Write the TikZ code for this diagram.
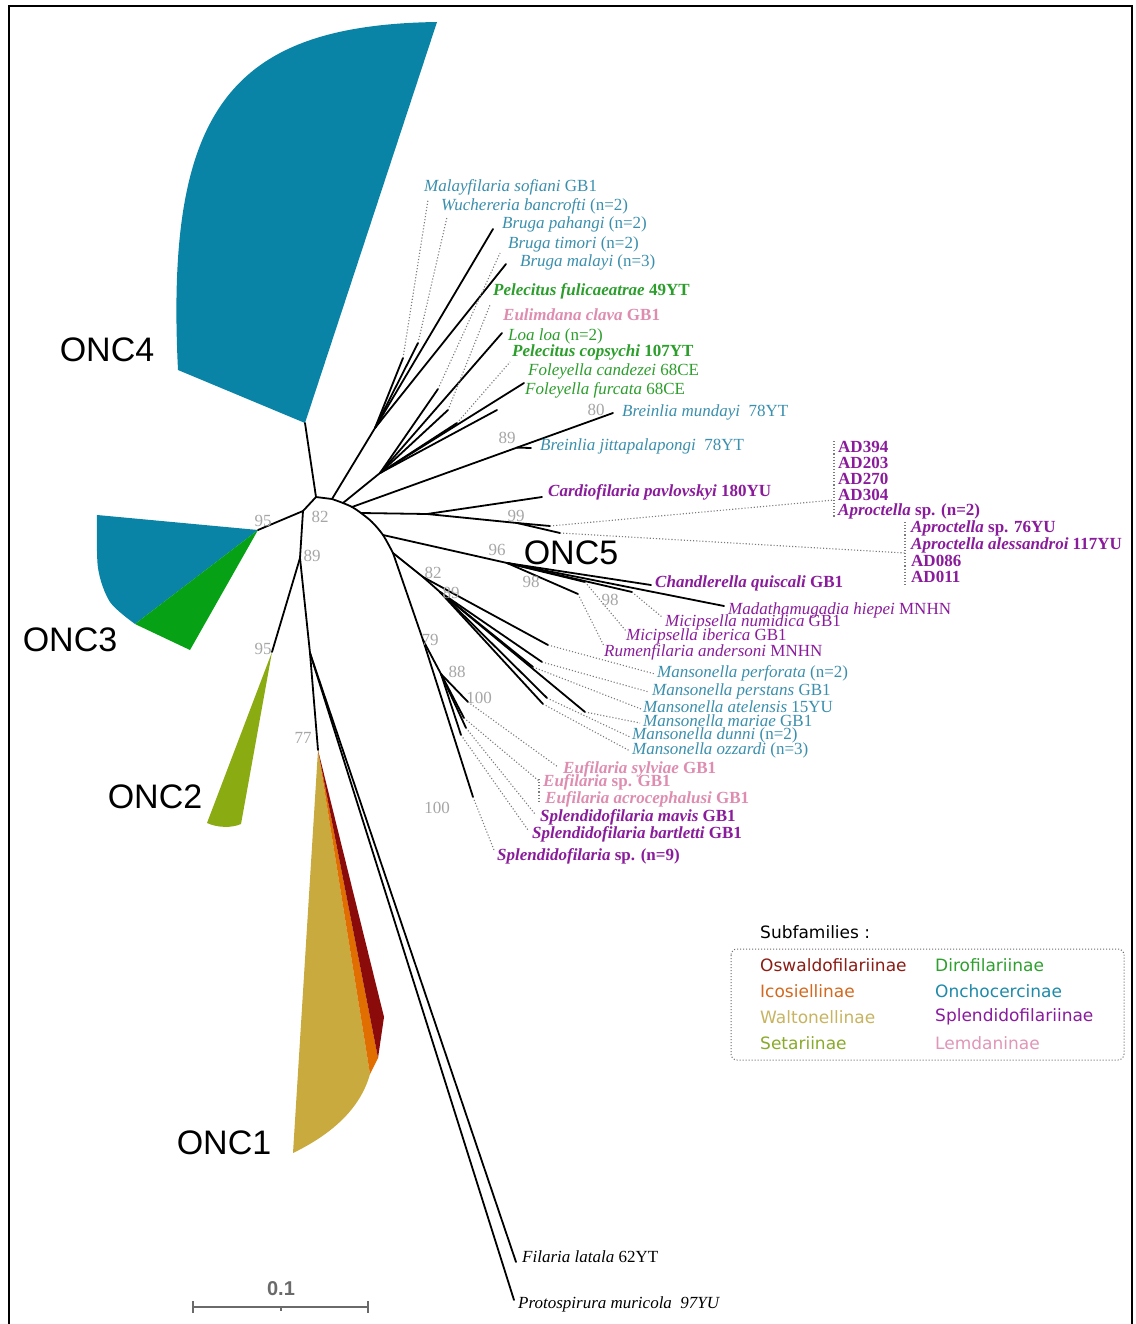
\documentclass[tikz,border=0pt]{standalone}
\usepackage{fontspec}
\setmainfont{Liberation Serif}
\newfontfamily\arialf{Liberation Sans}
\newfontfamily\dejavuf{DejaVu Sans}
\usetikzlibrary{calc}
\definecolor{tealfill}{HTML}{0A84A6}
\definecolor{greenfill}{HTML}{06A114}
\definecolor{olivefill}{HTML}{8AAB12}
\definecolor{tanfill}{HTML}{C9AA3E}
\definecolor{orangefill}{HTML}{E06E00}
\definecolor{redfill}{HTML}{8B0A0A}
\definecolor{tealtxt}{HTML}{3A8FAD}
\definecolor{greentxt}{HTML}{2C9E2C}
\definecolor{pinktxt}{HTML}{DE8DB0}
\definecolor{purptxt}{HTML}{8A1C9C}
\definecolor{bsgray}{HTML}{A6A6A6}
\definecolor{dotgray}{HTML}{7A7A7A}
\definecolor{sbgray}{HTML}{6A6A6A}
\definecolor{oswal}{HTML}{8C1C14}
\definecolor{icos}{HTML}{D2691E}
\definecolor{walt}{HTML}{C8B460}
\definecolor{setar}{HTML}{8AAA2A}
\definecolor{dirof}{HTML}{2EA02E}
\definecolor{oncho}{HTML}{1E8AAA}
\definecolor{splen}{HTML}{8A1A9E}
\definecolor{lemda}{HTML}{E096B8}
\tikzset{
  br/.style={line width=1.8pt, line cap=round, line join=round},
  dl/.style={draw=dotgray, dotted, line width=1.1pt},
  sp/.style={anchor=west, inner sep=0pt, font=\fontsize{17}{19}\selectfont, text height=12pt, text depth=4pt},
  bsl/.style={inner sep=0pt, font=\fontsize{17}{19}\selectfont, text=bsgray},
  oncl/.style={inner sep=0pt, font=\arialf\fontsize{34}{36}\selectfont},
  legl/.style={anchor=west, inner sep=0pt, font=\dejavuf\fontsize{17}{19}\selectfont},
  tl/.style={sp, text=tealtxt},
  gl/.style={sp, text=greentxt},
  pl/.style={sp, text=pinktxt},
  ul/.style={sp, text=purptxt},
  kl/.style={sp, text=black}
}
\begin{document}
\begin{tikzpicture}[x=1pt,y=-1pt]
\useasboundingbox (0,0) rectangle (1135,1324);
\fill[white] (0,0) rectangle (1135,1324);
% frame
\draw[line width=2.5pt] (9,1324) -- (9,6) -- (1132,6) -- (1132,1324);

% ---------- collapsed clades ----------
\fill[tealfill] (305,423) -- (178,370) .. controls (165,110) and (230,25) .. (437,22) -- cycle;
\fill[tealfill] (258,530) -- plot[smooth] coordinates {(97,515) (98,568) (110,602) (135,624)} -- cycle;
\fill[greenfill] (258,530) -- (135,624) -- (190,650) -- cycle;
\fill[olivefill] (272,652) -- (207,823) .. controls (218,828) and (232,828) .. (241,824) -- cycle;
\fill[tanfill] (318,750) -- (370,1074) .. controls (360,1110) and (330,1135) .. (293,1153) -- cycle;
\fill[orangefill] (318,750) -- (378,1058) -- (370,1074) -- cycle;
\fill[redfill] (318,750) -- (384,1017) -- (378,1058) -- cycle;

% ---------- coordinates ----------
\coordinate (A) at (316,497);
\coordinate (O4) at (305,423);
\coordinate (B) at (303,511);
\coordinate (O3) at (258,530);
\coordinate (N89) at (300,558);
\coordinate (O2) at (272,652);
\coordinate (P) at (310,653);
\coordinate (O1) at (318,750);
\coordinate (FL) at (516,1262);
\coordinate (PM) at (514,1300);
\coordinate (C0) at (332,499);
\coordinate (C1) at (343,503);
\coordinate (C2) at (352,507);
\coordinate (C3) at (361,513);
\coordinate (Cm) at (372,522);
\coordinate (D) at (383,535);
\coordinate (E) at (393,553);
\coordinate (N79) at (423,640);
% top fan
\coordinate (F1) at (375,428);
\coordinate (T1s) at (403,358);
\coordinate (T1d) at (428,200);
\coordinate (T2s) at (418,343);
\coordinate (T2d) at (447,217);
\coordinate (T3) at (493,229);
\coordinate (T5) at (506,264);
\coordinate (F2) at (380,473);
\coordinate (T4s) at (438,389);
\coordinate (T4d) at (500,253);
\coordinate (T6s) at (448,410);
\coordinate (T6d) at (490,305);
\coordinate (T7) at (502,333);
\coordinate (T8s) at (457,423);
\coordinate (T8d) at (510,362);
\coordinate (T9) at (524,383);
\coordinate (T10) at (497,410);
% Breinlia
\coordinate (BR1) at (613,413);
\coordinate (BRn) at (517,447.6);
\coordinate (BRj) at (531,448);
% Cardiofilaria / Aproctella
\coordinate (K) at (427,514);
\coordinate (CA) at (542,497);
\coordinate (L) at (517,523);
\coordinate (AP1) at (550,526);
\coordinate (AP2) at (560,533);
\coordinate (AQ1) at (834,500);
\coordinate (AQ2) at (905,553);
\coordinate (BK1a) at (834,441);
\coordinate (BK1b) at (834,517);
\coordinate (BK2a) at (905,522);
\coordinate (BK2b) at (905,586);
% ONC5 group
\coordinate (N96) at (507,563);
\coordinate (CH) at (651,585);
\coordinate (MH) at (724,606);
\coordinate (M1) at (632,592);
\coordinate (M2) at (585,582);
\coordinate (M3) at (578,594);
\coordinate (M1d) at (662,617);
\coordinate (M2d) at (626,631);
\coordinate (M3d) at (604,646);
% 82 group
\coordinate (G) at (423,577);
\coordinate (H) at (440,592);
\coordinate (Q1) at (548,645);
\coordinate (Q2) at (542,662);
\coordinate (Q3) at (533,667);
\coordinate (Q4) at (585,712);
\coordinate (Q5) at (547,698);
\coordinate (Q6) at (543,704);
\coordinate (Q1d) at (655,674);
\coordinate (Q2d) at (649,692);
\coordinate (Q3d) at (641,709);
\coordinate (Q4d) at (640,723);
\coordinate (Q5d) at (630,737);
\coordinate (Q6d) at (630,751);
% 79 group
\coordinate (N88) at (441,674);
\coordinate (X1) at (468,702);
\coordinate (X2) at (464,718);
\coordinate (X3) at (466,728);
\coordinate (X4) at (461,735);
\coordinate (X5) at (473,797);
\coordinate (X1d) at (558,767);
\coordinate (X2d) at (539,781);
\coordinate (X3d) at (535,814);
\coordinate (X4d) at (528,830);
\coordinate (X5d) at (494,850);
\coordinate (BK3a) at (539,779);
\coordinate (BK3b) at (539,803);

% ---------- branches ----------
\draw[br] (O4) -- (A) -- (B) -- (O3);
\draw[br] (B) -- (N89) -- (O2);
\draw[br] (N89) -- (P) -- (O1);
\draw[br] (P) -- (FL);
\draw[br] (P) -- (PM);
\draw[br] (A) -- (C0);
\draw[br] plot[smooth] coordinates {(C0) (C1) (C2) (C3) (Cm) (D) (E)};
\draw[br] (E) -- (N79);
% top fan
\draw[br] (C0) -- (F1);
\draw[br] (F1) -- (T1s);
\draw[br] (F1) -- (T2s);
\draw[br] (F1) -- (T3);
\draw[br] (F1) -- (T5);
\draw[dl] (T1s) -- (T1d);
\draw[dl] (T2s) -- (T2d);
\draw[br] (C1) -- (F2);
\draw[br] (F2) -- (T4s);
\draw[br] (F2) -- (T6s);
\draw[br] (F2) -- (T7);
\draw[br] (F2) -- (T8s);
\draw[br] (F2) -- (T9);
\draw[br] (F2) -- (T10);
\draw[dl] (T4s) -- (T4d);
\draw[dl] (T6s) -- (T6d);
\draw[dl] (T8s) -- (T8d);
% Breinlia
\draw[br] (C2) -- (BR1);
\draw[br] (BRn) -- (BRj);
% Cardiofilaria / Aproctella
\draw[br] (C3) -- (K) -- (CA);
\draw[br] (K) -- (L) -- (AP1);
\draw[br] (L) -- (AP2);
\draw[dl] (AP1) -- (AQ1);
\draw[dl] (AP2) -- (AQ2);
\draw[dl] (BK1a) -- (BK1b);
\draw[dl] (BK2a) -- (BK2b);
% ONC5
\draw[br] (D) -- (N96);
\draw[br] (N96) -- (CH);
\draw[br] (N96) -- (MH);
\draw[br] (N96) -- (M1);
\draw[br] (N96) -- (M2);
\draw[br] (N96) -- (M3);
\draw[dl] (M1) -- (M1d);
\draw[dl] (M2) -- (M2d);
\draw[dl] (M3) -- (M3d);
% 82 group
\draw[br] (E) -- (G) -- (Q1);
\draw[br] (G) -- (H);
\draw[br] (H) -- (Q2);
\draw[br] (H) -- (Q3);
\draw[br] (H) -- (Q4);
\draw[br] (H) -- (Q5);
\draw[br] (H) -- (Q6);
\draw[dl] (Q1) -- (Q1d);
\draw[dl] (Q2) -- (Q2d);
\draw[dl] (Q3) -- (Q3d);
\draw[dl] (Q4) -- (Q4d);
\draw[dl] (Q5) -- (Q5d);
\draw[dl] (Q6) -- (Q6d);
% 79 group
\draw[br] (N79) -- (X5);
\draw[br] (N79) -- (N88);
\draw[br] (N88) -- (X1);
\draw[br] (N88) -- (X2);
\draw[br] (N88) -- (X3);
\draw[br] (N88) -- (X4);
\draw[dl] (X1) -- (X1d);
\draw[dl] (X2) -- (X2d);
\draw[dl] (X3) -- (X3d);
\draw[dl] (X4) -- (X4d);
\draw[dl] (X5) -- (X5d);
\draw[dl] (BK3a) -- (BK3b);

% ---------- clade names ----------
\node[oncl] (onc4) at (107,350) {ONC4};
\node[oncl] (onc3) at (70,640) {ONC3};
\node[oncl] (onc2) at (155,797) {ONC2};
\node[oncl] (onc1) at (224,1143) {ONC1};
\node[oncl] (onc5) at (571,553) {ONC5};

% ---------- bootstrap values ----------
\node[bsl] (b1) at (263,521) {95};
\node[bsl] (b2) at (320,517) {82};
\node[bsl] (b3) at (312,556) {89};
\node[bsl] (b4) at (263,649) {95};
\node[bsl] (b5) at (303,738) {77};
\node[bsl] (b6) at (596,410) {80};
\node[bsl] (b7) at (507,438) {89};
\node[bsl] (b8) at (516,516) {99};
\node[bsl] (b9) at (497,550) {96};
\node[bsl] (b10) at (531,582) {98};
\node[bsl] (b11) at (610,600) {98};
\node[bsl] (b12) at (433,573) {82};
\node[bsl] (b13) at (451,593) {89};
\node[bsl] (b14) at (430,640) {79};
\node[bsl] (b15) at (457,672) {88};
\node[bsl] (b16) at (479,698) {100};
\node[bsl] (b17) at (437,808) {100};

% ---------- taxon labels ----------
\node[tl] (s1) at (424,188) {\textit{Malayfilaria sofiani} GB1};
\node[tl] (s2) at (441,207) {\textit{Wuchereria bancrofti} (n=2)};
\node[tl] (s3) at (502,225) {\textit{Bruga pahangi} (n=2)};
\node[tl] (s4) at (508,245) {\textit{Bruga timori} (n=2)};
\node[tl] (s5) at (520,262) {\textit{Bruga malayi} (n=3)};
\node[gl] (s6) at (493,291) {\textbf{\textit{Pelecitus fulicaeatrae} 49YT}};
\node[pl] (s7) at (503,316) {\textbf{\textit{Eulimdana clava} GB1}};
\node[gl] (s8) at (508,336) {\textit{Loa loa} (n=2)};
\node[gl] (s9) at (512,352) {\textbf{\textit{Pelecitus copsychi} 107YT}};
\node[gl] (s10) at (528,371) {\textit{Foleyella candezei} 68CE};
\node[gl] (s11) at (525,390) {\textit{Foleyella furcata} 68CE};
\node[tl] (s12) at (622,412) {\textit{Breinlia mundayi}\ \ 78YT};
\node[tl] (s13) at (540,446) {\textit{Breinlia jittapalapongi}\ \ 78YT};
\node[ul] (s14) at (548,492) {\textbf{\textit{Cardiofilaria pavlovskyi} 180YU}};
\node[ul] (s15) at (838,448) {\textbf{AD394}};
\node[ul] (s16) at (838,464) {\textbf{AD203}};
\node[ul] (s17) at (838,480) {\textbf{AD270}};
\node[ul] (s18) at (838,496) {\textbf{AD304}};
\node[ul] (s19) at (838,511) {\textbf{\textit{Aproctella} sp. (n=2)}};
\node[ul] (s20) at (911,528) {\textbf{\textit{Aproctella} sp. 76YU}};
\node[ul] (s21) at (911,545) {\textbf{\textit{Aproctella alessandroi} 117YU}};
\node[ul] (s22) at (911,562) {\textbf{AD086}};
\node[ul] (s23) at (911,578) {\textbf{AD011}};
\node[ul] (s24) at (655,583) {\textbf{\textit{Chandlerella quiscali} GB1}};
\node[ul] (s25) at (728,610) {\textit{Madathamugadia hiepei} MNHN};
\node[ul] (s26) at (665,622) {\textit{Micipsella numidica} GB1};
\node[ul] (s27) at (626,636) {\textit{Micipsella iberica} GB1};
\node[ul] (s28) at (604,652) {\textit{Rumenfilaria andersoni} MNHN};
\node[tl] (s29) at (657,673) {\textit{Mansonella perforata} (n=2)};
\node[tl] (s30) at (652,691) {\textit{Mansonella perstans} GB1};
\node[tl] (s31) at (643,708) {\textit{Mansonella atelensis} 15YU};
\node[tl] (s32) at (643,722) {\textit{Mansonella mariae} GB1};
\node[tl] (s33) at (632,735) {\textit{Mansonella dunni} (n=2)};
\node[tl] (s34) at (632,750) {\textit{Mansonella ozzardi} (n=3)};
\node[pl] (s35) at (563,769) {\textbf{\textit{Eufilaria sylviae} GB1}};
\node[pl] (s36) at (543,782) {\textbf{\textit{Eufilaria} sp. GB1}};
\node[pl] (s37) at (545,799) {\textbf{\textit{Eufilaria acrocephalusi} GB1}};
\node[ul] (s38) at (540,817) {\textbf{\textit{Splendidofilaria mavis} GB1}};
\node[ul] (s39) at (532,834) {\textbf{\textit{Splendidofilaria bartletti} GB1}};
\node[ul] (s40) at (497,856) {\textbf{\textit{Splendidofilaria} sp. (n=9)}};
\node[kl] (s41) at (522,1258) {\textit{Filaria latala} 62YT};
\node[kl] (s42) at (518,1304) {\textit{Protospirura muricola}\ \ \textit{97YU}};

% ---------- legend ----------
\node[legl, text=black] (lt) at (760,932) {Subfamilies :};
\draw[draw=sbgray, dotted, line width=1pt, rounded corners=6pt] (731,949) rectangle (1124,1060);
\node[legl, text=oswal] (l1) at (760,965) {Oswaldofilariinae};
\node[legl, text=icos] (l2) at (760,991) {Icosiellinae};
\node[legl, text=walt] (l3) at (760,1017) {Waltonellinae};
\node[legl, text=setar] (l4) at (760,1043) {Setariinae};
\node[legl, text=dirof] (l5) at (935,965) {Dirofilariinae};
\node[legl, text=oncho] (l6) at (935,991) {Onchocercinae};
\node[legl, text=splen] (l7) at (935,1017) {Splendidofilariinae};
\node[legl, text=lemda] (l8) at (935,1043) {Lemdaninae};

% ---------- scale bar ----------
\coordinate (SB1) at (193,1307);
\coordinate (SB2) at (368,1307);
\coordinate (SBm) at (281,1307);
\coordinate (SB1t) at (193,1301);
\coordinate (SB1b) at (193,1313);
\coordinate (SB2t) at (368,1301);
\coordinate (SB2b) at (368,1313);
\coordinate (SBmb) at (281,1311);
\draw[draw=sbgray, line width=2pt] (SB1) -- (SB2);
\draw[draw=sbgray, line width=2pt] (SB1t) -- (SB1b);
\draw[draw=sbgray, line width=2pt] (SB2t) -- (SB2b);
\draw[draw=sbgray, line width=1.5pt] (SBm) -- (SBmb);
\node[inner sep=0pt, font=\arialf\bfseries\fontsize{20}{22}\selectfont, text=sbgray] (sbl) at (281,1289) {0.1};
\end{tikzpicture}
\end{document}
